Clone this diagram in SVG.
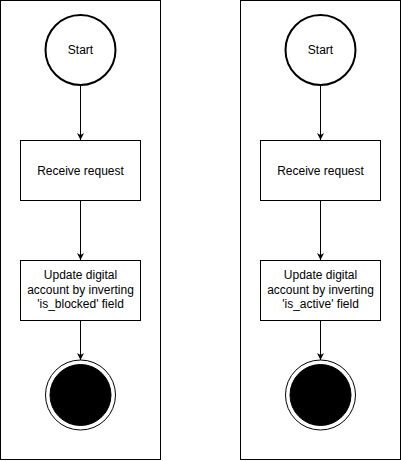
<svg xmlns="http://www.w3.org/2000/svg" width="401" height="461" viewBox="0 0 401 461">
<defs>
<style>
.panel{fill:#fff;stroke:#000;stroke-width:1}
.box{fill:#fff;stroke:#000;stroke-width:1}
.start{fill:#fff;stroke:#000;stroke-width:2}
.end-o{fill:#fff;stroke:#000;stroke-width:1}
.end-i{fill:#000;stroke:#000;stroke-width:1}
.edge{fill:none;stroke:#000;stroke-width:1}
text{font-family:"Liberation Sans",Arial,sans-serif;font-size:12px;fill:#000;text-anchor:middle}
</style>
<marker id="arr" viewBox="0 0 10 10" refX="10" refY="5" markerWidth="7" markerHeight="7" markerUnits="userSpaceOnUse" orient="auto">
<path d="M0,0 L10,5 L0,10 L3,5 Z" fill="#000"/>
</marker>
</defs>
<rect fill="#fff" width="401" height="461"/>
<g id="panel-left"><rect class="panel" x="0.5" y="0.5" width="160" height="459"/></g>
<g id="panel-right"><rect class="panel" x="240.5" y="0.5" width="160" height="459"/></g>
<g id="connectors">
<path class="edge" d="M80.5,85 L80.5,140" marker-end="url(#arr)"/>
<path class="edge" d="M80.5,200 L80.5,260" marker-end="url(#arr)"/>
<path class="edge" d="M80.5,320 L80.5,360" marker-end="url(#arr)"/>
<path class="edge" d="M320.5,85 L320.5,140" marker-end="url(#arr)"/>
<path class="edge" d="M320.5,200 L320.5,260" marker-end="url(#arr)"/>
<path class="edge" d="M320.5,320 L320.5,360" marker-end="url(#arr)"/>
</g>
<g id="start-left"><circle class="start" cx="80.5" cy="50" r="35"/><text x="80.5" y="54">Start</text></g>
<g id="receive-left"><rect class="box" x="20.5" y="140.5" width="120" height="60"/><text x="80.5" y="174.5">Receive request</text></g>
<g id="update-left"><rect class="box" x="20.5" y="260.5" width="120" height="60"/><text x="80.5" y="279">Update digital</text><text x="80.5" y="293.5">account by inverting</text><text x="80.5" y="308">'is_blocked' field</text></g>
<g id="end-left"><circle class="end-o" cx="80.5" cy="395" r="35"/><circle class="end-i" cx="80.5" cy="395" r="30.5"/></g>
<g id="start-right"><circle class="start" cx="320.5" cy="50" r="35"/><text x="320.5" y="54">Start</text></g>
<g id="receive-right"><rect class="box" x="260.5" y="140.5" width="120" height="60"/><text x="320.5" y="174.5">Receive request</text></g>
<g id="update-right"><rect class="box" x="260.5" y="260.5" width="120" height="60"/><text x="320.5" y="279">Update digital</text><text x="320.5" y="293.5">account by inverting</text><text x="320.5" y="308">'is_active' field</text></g>
<g id="end-right"><circle class="end-o" cx="320.5" cy="395" r="35"/><circle class="end-i" cx="320.5" cy="395" r="30.5"/></g>
</svg>
